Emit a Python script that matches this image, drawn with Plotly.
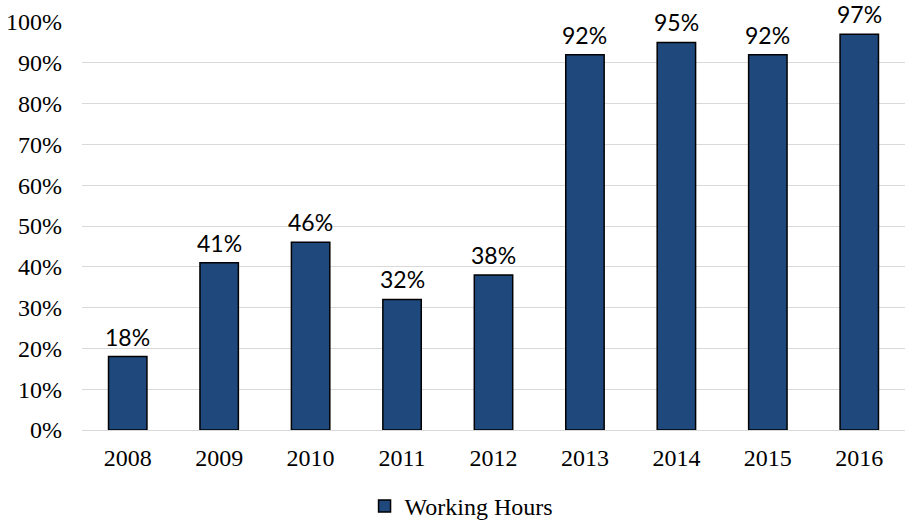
import plotly.graph_objects as go

years = ["2008", "2009", "2010", "2011", "2012", "2013", "2014", "2015", "2016"]
working_hours = [18, 41, 46, 32, 38, 92, 95, 92, 97]
tick_values = [0, 10, 20, 30, 40, 50, 60, 70, 80, 90, 100]
tick_labels = [f"{v}%" for v in tick_values]

SERIF = "Liberation Serif, Times New Roman, serif"

fig = go.Figure()
fig.add_trace(go.Bar(
    x=years,
    y=working_hours,
    name="Working Hours",
    marker=dict(color="#1F497D", line=dict(color="#000000", width=1.5)),
    cliponaxis=False,
))

# value labels above each bar (x given as category index)
for i, v in enumerate(working_hours):
    fig.add_annotation(
        x=i, y=v, text=f"{v}%",
        showarrow=False, yanchor="bottom", yshift=5, borderpad=0,
        font=dict(family="Lato", size=23, color="#000000"),
    )

fig.update_layout(
    width=905,
    height=521,
    margin=dict(l=82, r=0, t=22, b=91, autoexpand=False),
    paper_bgcolor="white",
    plot_bgcolor="white",
    bargap=0.58,
    showlegend=True,
    legend=dict(
        orientation="h",
        x=0.51,
        xanchor="center",
        xref="container",
        y=0.028,
        yanchor="middle",
        yref="container",
        font=dict(family=SERIF, size=24, color="#000000"),
        itemwidth=30,
    ),
    xaxis=dict(
        type="category",
        range=[-0.5, 8.5],
        showgrid=False,
        showline=True,
        linecolor="#d9d9d9",
        linewidth=1,
        ticks="",
        tickfont=dict(family=SERIF, size=24, color="#000000"),
        ticklabelstandoff=6,
    ),
    yaxis=dict(
        range=[0, 100],
        tickvals=tick_values,
        ticktext=tick_labels,
        showgrid=True,
        gridcolor="#d9d9d9",
        gridwidth=1,
        zeroline=False,
        showline=False,
        ticks="",
        tickfont=dict(family=SERIF, size=24, color="#000000"),
        ticklabelstandoff=19,
    ),
)

fig.write_html("out.html")
